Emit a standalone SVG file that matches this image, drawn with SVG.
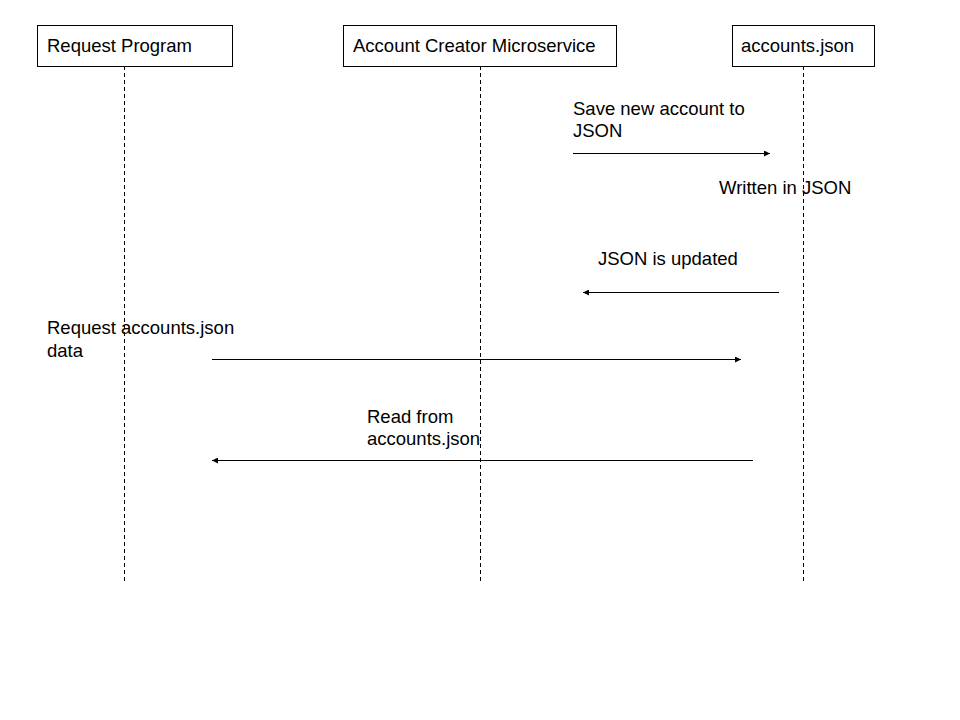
<svg xmlns="http://www.w3.org/2000/svg" width="960" height="720" viewBox="0 0 960 720">
<style>
text{font-family:"Liberation Sans",Arial,sans-serif;font-size:18.5px;fill:#000}
.box{fill:#fff;stroke:#000;stroke-width:1}
.life{stroke:#000;stroke-width:1;stroke-dasharray:4 3;fill:none}
.msg{stroke:#000;stroke-width:1;fill:none;marker-end:url(#ah)}
</style>
<defs>
<marker id="ah" viewBox="0 0 10 10" refX="10" refY="5" markerWidth="8" markerHeight="6" markerUnits="userSpaceOnUse" orient="auto">
<path d="M0,0 L10,5 L0,10 Z" fill="#000"/>
</marker>
</defs>
<rect width="960" height="720" fill="#fff"/>
<g id="lifelines">
<line class="life" x1="124.5" y1="66" x2="124.5" y2="581"/>
<line class="life" x1="480.5" y1="66" x2="480.5" y2="581"/>
<line class="life" x1="803.5" y1="66" x2="803.5" y2="581"/>
</g>
<g id="node-request-program">
<rect class="box" x="37.5" y="25.5" width="195" height="41"/>
<text x="47" y="52">Request Program</text>
</g>
<g id="node-account-creator">
<rect class="box" x="343.5" y="25.5" width="273" height="41"/>
<text x="353" y="52">Account Creator Microservice</text>
</g>
<g id="node-accounts-json">
<rect class="box" x="732.5" y="25.5" width="142" height="41"/>
<text x="741" y="52">accounts.json</text>
</g>
<g id="connectors">
<line class="msg" x1="573" y1="153.5" x2="770" y2="153.5"/>
<line class="msg" x1="779" y1="292.5" x2="583" y2="292.5"/>
<line class="msg" x1="212" y1="359.5" x2="741" y2="359.5"/>
<line class="msg" x1="753" y1="460.5" x2="212" y2="460.5"/>
</g>
<g id="labels">
<text x="573" y="115">Save new account to</text>
<text x="573" y="137">JSON</text>
<text x="719" y="194">Written in JSON</text>
<text x="598" y="265">JSON is updated</text>
<text x="47" y="334">Request accounts.json</text>
<text x="47" y="357">data</text>
<text x="367" y="423">Read from</text>
<text x="367" y="445">accounts.json</text>
</g>
</svg>
